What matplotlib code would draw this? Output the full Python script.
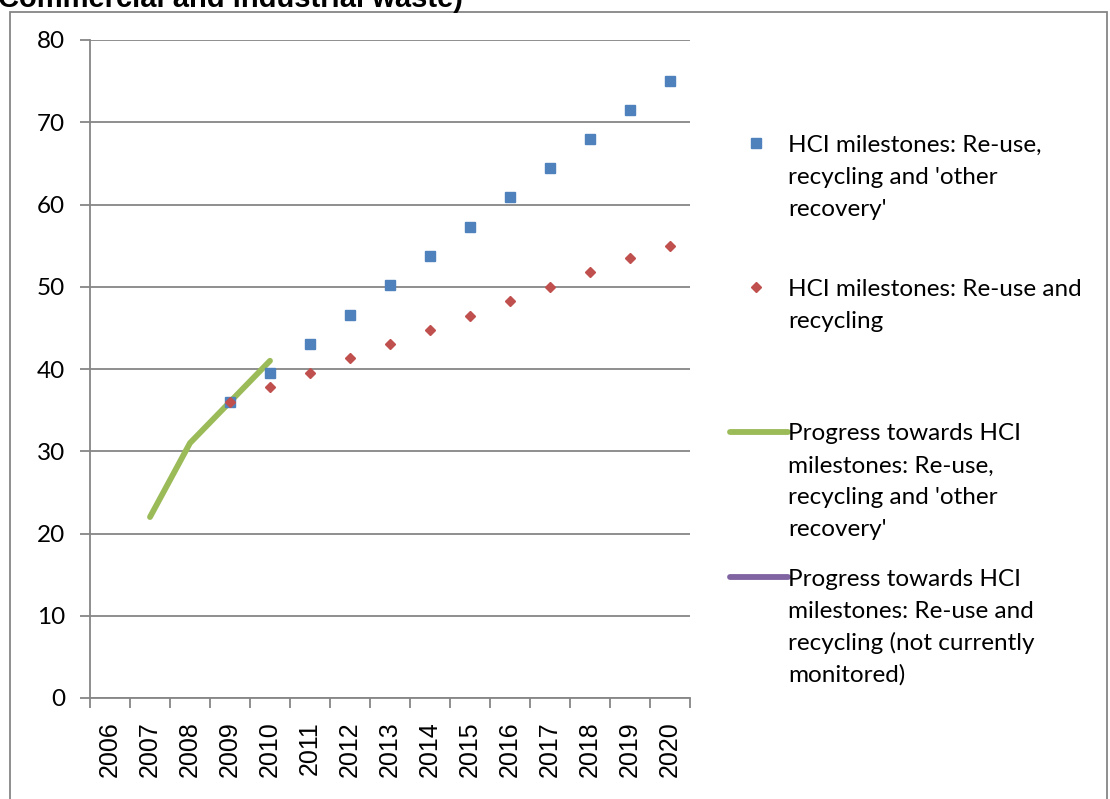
import numpy as np
import matplotlib
matplotlib.use("Agg")
import matplotlib.pyplot as plt
from matplotlib.lines import Line2D
from matplotlib.patches import Rectangle

years = ["2006", "2007", "2008", "2009", "2010", "2011", "2012", "2013",
         "2014", "2015", "2016", "2017", "2018", "2019", "2020"]
nan = np.nan
# HCI milestones: re-use, recycling and 'other recovery'
milestones_other = [nan, nan, nan, 36.0, 39.5, 43.0, 46.6, 50.2,
                    53.7, 57.3, 60.9, 64.4, 68.0, 71.5, 75.0]
# HCI milestones: re-use and recycling
milestones_recyc = [nan, nan, nan, 36.0, 37.8, 39.5, 41.3, 43.0,
                    44.8, 46.5, 48.3, 50.0, 51.8, 53.5, 55.0]
# progress towards milestones (re-use, recycling and other recovery)
progress_other = [nan, 22.0, 31.0, 36.0, 41.0, nan, nan, nan,
                  nan, nan, nan, nan, nan, nan, nan]
# progress re-use and recycling (not monitored -> empty)
progress_recyc = [nan] * 15

legend_labels = [
    "HCI milestones: Re-use,\nrecycling and 'other\nrecovery'",
    "HCI milestones: Re-use and\nrecycling",
    "Progress towards HCI\nmilestones: Re-use,\nrecycling and 'other\nrecovery'",
    "Progress towards HCI\nmilestones: Re-use and\nrecycling (not currently\nmonitored)",
]

W, H = 1110, 799
fig = plt.figure(figsize=(W / 100, H / 100), dpi=100)

def fx(px):
    return px / W

def fy(py):
    return 1 - py / H

grey = "#868686"
ax = fig.add_axes([fx(90), fy(698), fx(690) - fx(90), fy(40) - fy(698)])
x = np.arange(len(years))

ax.plot(x, progress_other, color="#9BBB59", lw=4.2, solid_capstyle="round", zorder=3)
ax.plot(x, progress_recyc, color="#8064A2", lw=4.2, zorder=3)
ax.plot(x, milestones_other, ls="none", marker="s", ms=7.5, color="#4F81BD", zorder=4)
ax.plot(x, milestones_recyc, ls="none", marker="D", ms=5.5, color="#C0504D", zorder=5)

ax.set_xlim(-0.5, len(years) - 0.5)
ax.set_ylim(0, 80)
ax.set_yticks(range(0, 81, 10))
ax.yaxis.grid(True, color=grey, lw=1.3)
ax.set_axisbelow(True)
ax.set_xticks(x)
ax.set_xticklabels(years, rotation=90, fontsize=18, family="Liberation Sans")
ax.set_xticks(np.arange(-0.5, len(years)), minor=True)
ax.tick_params(axis="x", which="major", length=0, pad=17)
ax.tick_params(axis="x", which="minor", length=7, color=grey, width=1.3, direction="out")
ax.tick_params(axis="y", length=7, color=grey, width=1.3, pad=11, labelsize=17.5)
for lab in ax.get_yticklabels():
    lab.set_family("Lato")
for s in ["top", "right"]:
    ax.spines[s].set_visible(False)
for s in ["left", "bottom"]:
    ax.spines[s].set_color(grey)
    ax.spines[s].set_linewidth(1.3)

# outer chart border
fig.add_artist(Rectangle((fx(10), fy(830)), fx(1107) - fx(10), fy(12) - fy(830),
                         transform=fig.transFigure, fill=False, ec=grey, lw=1.3,
                         clip_on=False))

# title, clipped at the top of the image
fig.text(fx(-2), fy(7), "Commercial and industrial waste)", fontsize=21,
         fontweight="bold", family="Liberation Sans", va="baseline", ha="left")

# legend
txt_x = 788
line_h = 32
first_lines = [143, 287, 432, 577]
handles = [
    dict(marker="s", ms=7.5, color="#4F81BD", ls="none"),
    dict(marker="D", ms=5.5, color="#C0504D", ls="none"),
    dict(color="#9BBB59", lw=4.2),
    dict(color="#8064A2", lw=4.2),
]
for lab, y0, h in zip(legend_labels, first_lines, handles):
    if h.get("ls") == "none":
        xs = [fx(756)]
    else:
        xs = [fx(730), fx(788)]
    fig.add_artist(Line2D(xs, [fy(y0)] * len(xs), transform=fig.transFigure,
                          solid_capstyle="round", **h))
    # one text per line so the line pitch matches the reference
    for i, part in enumerate(lab.split("\n")):
        fig.text(fx(txt_x), fy(y0 + i * line_h), part, fontsize=17.5,
                 family="Lato", va="center_baseline", ha="left")

fig.savefig("out.png", dpi=100)
